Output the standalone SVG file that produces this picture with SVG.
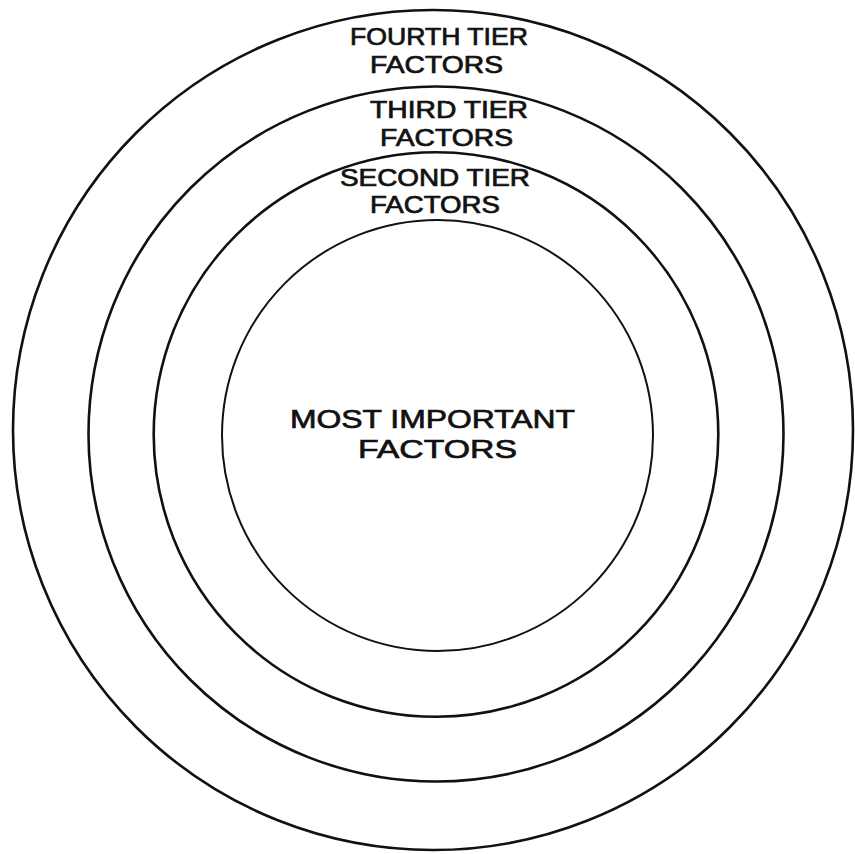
<svg xmlns="http://www.w3.org/2000/svg" width="855" height="854" viewBox="0 0 855 854">
<style>
.ring{fill:none;stroke:#111;stroke-width:2.6}
.lbl{font-family:"Liberation Sans",Arial,sans-serif;font-size:23px;fill:#111;stroke:#111;stroke-width:0.7}
.big{font-size:26px}
</style>
<rect width="855" height="854" fill="#fff"/>
<g id="tier4">
<circle class="ring" cx="433" cy="430" r="420"/>
<text class="lbl" x="350" y="45" textLength="178" lengthAdjust="spacingAndGlyphs">FOURTH TIER</text>
<text class="lbl" x="370" y="73" textLength="133" lengthAdjust="spacingAndGlyphs">FACTORS</text>
</g>
<g id="tier3">
<circle class="ring" cx="436" cy="434" r="347.5"/>
<text class="lbl" x="370" y="118" textLength="158" lengthAdjust="spacingAndGlyphs">THIRD TIER</text>
<text class="lbl" x="380" y="146" textLength="133" lengthAdjust="spacingAndGlyphs">FACTORS</text>
</g>
<g id="tier2">
<circle class="ring" cx="436" cy="434.5" r="282.3"/>
<text class="lbl" x="340" y="186" textLength="190" lengthAdjust="spacingAndGlyphs">SECOND TIER</text>
<text class="lbl" x="370" y="213" textLength="130" lengthAdjust="spacingAndGlyphs">FACTORS</text>
</g>
<g id="tier1">
<circle class="ring" cx="437.5" cy="435.5" r="215.5" style="stroke-width:2"/>
<text class="lbl big" x="290" y="428" textLength="285" lengthAdjust="spacingAndGlyphs">MOST IMPORTANT</text>
<text class="lbl big" x="358" y="458" textLength="159" lengthAdjust="spacingAndGlyphs">FACTORS</text>
</g>
<g id="connectors"></g>
</svg>
